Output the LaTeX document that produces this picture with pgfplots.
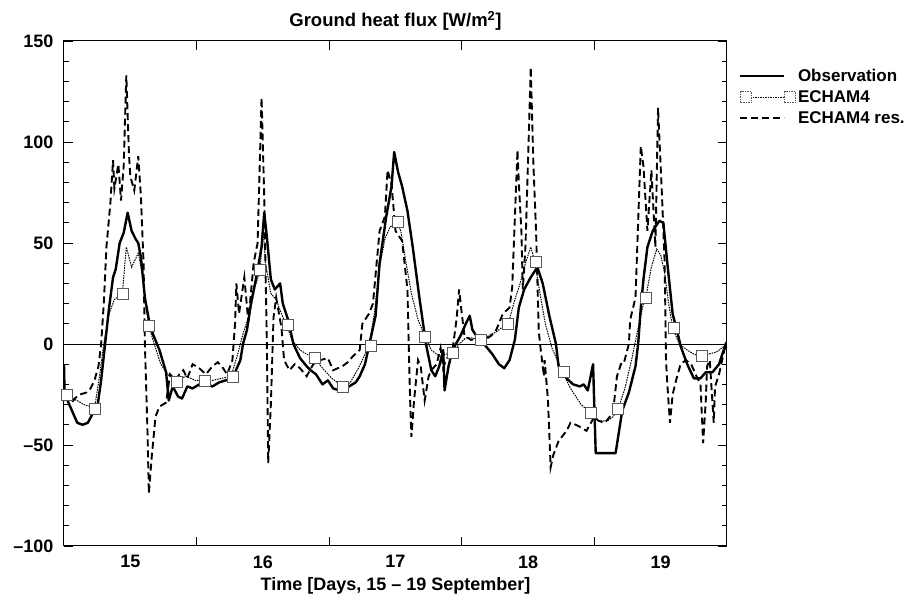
\documentclass[border=0pt]{standalone}
\usepackage{pgfplots}
\pgfplotsset{compat=1.18}
\usepackage{fontspec}
\setmainfont{Liberation Sans}
\newcommand{\lab}{\bfseries\fontsize{18}{21}\selectfont}
\begin{document}
\begin{tikzpicture}
\useasboundingbox (-64pt,-53pt) rectangle (847pt,546pt);
\begin{axis}[
  at={(0pt,0pt)}, anchor=south west,
  scale only axis, width=663pt, height=505pt,
  xmin=14.5, xmax=19.5, ymin=-100, ymax=150,
  axis line style={line width=1pt},
  tick style={black, line width=0.8pt},
  tick align=inside,
  major tick length=9pt, minor tick length=5pt,
  xtick={15,16,17,18,19},
  xticklabels={15,16,17,18,19},
  xtick style={draw=none},
  minor xtick={14.75,15,15.25,15.75,16,16.25,16.75,17,17.25,17.75,18,18.25,18.75,19,19.25},
  extra x ticks={15.5,16.5,17.5,18.5},
  extra x tick labels={},
  extra x tick style={xtick style={draw=black}},
  ytick={-100,-50,0,50,100,150},
  yticklabels={\textendash100,\textendash50,0,50,100,150},
  minor ytick={-90,-80,-70,-60,-40,-30,-20,-10,10,20,30,40,60,70,80,90,110,120,130,140},
  tick label style={font=\lab},
  xticklabel style={yshift=-6pt},
  yticklabel style={xshift=-7pt},
  xlabel={Time [Days, 15 \textendash{} 19 September]},
  xlabel style={font=\lab, yshift=-2pt},
  title={Ground heat flux [W/m\textsuperscript{2}]},
  title style={font=\bfseries\fontsize{18.5}{21}\selectfont, yshift=1pt},
  legend style={draw=none, fill=none, at={(1,1)}, anchor=north west,
    xshift=9pt, yshift=-24pt, font=\bfseries\fontsize{17}{20}\selectfont, row sep=3.5pt},
  legend cell align=left,
  legend image code/.code={\draw[#1] (0pt,0pt) -- (44pt,0pt);},
]
\addplot[black, line width=0.8pt, forget plot] coordinates {(14.5,0) (19.5,0)};

% Observation
\addplot[black, line width=2.4pt, line join=round] coordinates {
(14.50,-10) (14.505,-27) (14.52,-27) (14.56,-33) (14.60,-39) (14.64,-40) (14.68,-39)
(14.72,-34) (14.75,-32) (14.78,-18) (14.81,0) (14.84,18) (14.87,33) (14.89,37) (14.92,50)
(14.95,55) (14.98,65) (15.01,56) (15.04,52) (15.06,50) (15.08,43) (15.11,23) (15.14,12)
(15.17,5) (15.22,-3) (15.27,-14) (15.29,-28) (15.32,-21) (15.36,-26) (15.39,-27) (15.43,-21)
(15.47,-22) (15.52,-20) (15.57,-20) (15.62,-21) (15.67,-19) (15.72,-18) (15.77,-17) (15.83,-8)
(15.85,0) (15.88,7) (15.91,20) (15.95,33) (15.99,48) (16.01,65) (16.03,53) (16.06,32)
(16.09,27) (16.13,30) (16.15,20) (16.19,12) (16.23,0) (16.28,-7) (16.33,-11) (16.36,-13)
(16.40,-15) (16.45,-20) (16.49,-18) (16.53,-22) (16.58,-23) (16.65,-21) (16.70,-19) (16.73,-16)
(16.77,-10) (16.80,-1) (16.85,14) (16.88,40) (16.93,63) (16.97,78) (16.99,95) (17.02,85)
(17.05,78) (17.09,66) (17.13,48) (17.18,23) (17.23,0) (17.27,-13) (17.30,-16) (17.33,-11)
(17.36,-3) (17.37,-23) (17.40,-11) (17.43,-3) (17.49,4) (17.53,10) (17.56,14) (17.58,7)
(17.63,2) (17.68,-1) (17.73,-5) (17.78,-10) (17.82,-12) (17.86,-8) (17.90,2) (17.93,18)
(17.97,27) (18.02,33) (18.07,38) (18.11,30) (18.16,14) (18.21,0) (18.23,-11) (18.29,-17)
(18.34,-20) (18.39,-21) (18.42,-20) (18.45,-23) (18.49,-10) (18.51,-54) (18.66,-54) (18.71,-33)
(18.76,-24) (18.81,-11) (18.83,0) (18.85,18) (18.87,32) (18.90,48) (18.94,56) (18.99,61)
(19.02,60) (19.05,40) (19.09,15) (19.14,2) (19.15,-1) (19.20,-10) (19.25,-17) (19.30,-17)
(19.34,-14) (19.39,-14) (19.44,-10) (19.49,0) (19.50,1)
};
\addlegendentry{Observation}

% ECHAM4 (line)
\addplot[black, line width=1pt, dash pattern=on 1.5pt off 1pt,
  legend image code/.code={
    \draw[black, line width=1pt, dash pattern=on 1.5pt off 1pt] (0pt,0pt) -- (44pt,0pt);
    \node[draw=gray!70!black, fill=white, minimum size=11pt, inner sep=0pt, line width=0.6pt] at (0pt,0pt) {};
    \node[draw=gray!70!black, fill=white, minimum size=11pt, inner sep=0pt, line width=0.6pt] at (44pt,0pt) {};
  }] coordinates {
(14.50,-25) (14.52,-25) (14.56,-27) (14.60,-28) (14.65,-30) (14.70,-31) (14.73,-32) (14.77,-15)
(14.80,0) (14.84,15) (14.88,22) (14.94,25) (14.97,48) (15.01,38) (15.06,45) (15.09,35)
(15.12,18) (15.14,9) (15.18,0) (15.23,-10) (15.28,-15) (15.35,-18) (15.42,-16) (15.49,-18)
(15.56,-18) (15.62,-18) (15.69,-17) (15.76,-16) (15.81,-5) (15.85,5) (15.90,15) (15.94,28)
(15.98,37) (16.00,58) (16.02,40) (16.06,25) (16.10,22) (16.14,15) (16.18,9) (16.22,2)
(16.28,-3) (16.33,-5) (16.39,-7) (16.45,-12) (16.52,-17) (16.60,-21) (16.66,-19) (16.72,-12)
(16.80,-1) (16.84,15) (16.88,38) (16.92,52) (16.96,58) (17.01,60) (17.04,56) (17.08,40)
(17.12,25) (17.17,12) (17.22,4) (17.27,-3) (17.33,-6) (17.38,-5) (17.43,-5) (17.48,0)
(17.53,3) (17.58,3) (17.64,2) (17.70,4) (17.76,6) (17.80,8) (17.85,10) (17.90,22)
(17.94,30) (17.98,40) (18.02,48) (18.05,41) (18.09,25) (18.13,10) (18.18,-2) (18.22,-8)
(18.26,-14) (18.32,-22) (18.40,-30) (18.47,-34) (18.53,-38) (18.60,-38) (18.64,-36) (18.68,-32)
(18.73,-22) (18.78,-8) (18.83,8) (18.87,20) (18.89,24) (18.93,38) (18.97,47) (19.00,44)
(19.03,35) (19.06,20) (19.09,8) (19.14,0) (19.20,-3) (19.25,-5) (19.30,-6) (19.36,-5)
(19.42,-4) (19.48,-1) (19.50,0)
};
\addlegendentry{ECHAM4}

% ECHAM4 res.
\addplot[black, line width=1.9pt, dash pattern=on 7pt off 4pt] coordinates {
(14.50,-28) (14.53,-27) (14.56,-29) (14.58,-27) (14.62,-25) (14.67,-24) (14.70,-22) (14.73,-18)
(14.76,-11) (14.78,0) (14.80,20) (14.82,48) (14.85,70) (14.87,91) (14.88,77) (14.91,89)
(14.93,71) (14.95,88) (14.97,133) (14.99,94) (15.00,83) (15.03,76) (15.06,93) (15.08,73)
(15.10,40) (15.11,0) (15.13,-44) (15.14,-74) (15.16,-57) (15.19,-36) (15.22,-31) (15.27,-29)
(15.30,-15) (15.34,-18) (15.37,-15) (15.40,-13) (15.43,-17) (15.47,-10) (15.52,-12) (15.57,-15)
(15.62,-11) (15.66,-9) (15.70,-12) (15.73,-15) (15.77,-8) (15.79,10) (15.80,30) (15.82,15)
(15.86,33) (15.89,11) (15.93,40) (15.96,50) (15.99,122) (16.01,73) (16.03,0) (16.04,-59)
(16.06,-30) (16.08,13) (16.10,23) (16.14,8) (16.16,-8) (16.20,-13) (16.24,-10) (16.28,-12)
(16.33,-16) (16.38,-10) (16.43,-8) (16.49,-7) (16.53,-13) (16.60,-11) (16.64,-9) (16.68,-6)
(16.73,-3) (16.75,10) (16.77,12) (16.80,15) (16.83,20) (16.88,56) (16.92,63) (16.94,86)
(16.97,79) (17.00,56) (17.05,51) (17.09,27) (17.10,-1) (17.11,-27) (17.12,-46) (17.14,-28)
(17.17,-8) (17.19,-11) (17.22,-28) (17.25,-16) (17.27,-13) (17.31,-10) (17.34,-2) (17.36,-12)
(17.38,-8) (17.43,-3) (17.46,12) (17.48,27) (17.50,15) (17.52,4) (17.57,2) (17.62,3)
(17.67,2) (17.72,4) (17.76,7) (17.81,15) (17.86,18) (17.88,28) (17.92,96) (17.93,80)
(17.95,55) (17.96,27) (17.98,48) (18.01,114) (18.02,137) (18.04,89) (18.06,56) (18.08,7)
(18.09,0) (18.12,-16) (18.125,-8) (18.15,-28) (18.17,-61) (18.19,-55) (18.23,-48) (18.29,-43)
(18.32,-39) (18.36,-40) (18.39,-41) (18.44,-43) (18.50,-36) (18.53,-38) (18.58,-39) (18.64,-34)
(18.67,-16) (18.70,-10) (18.72,-10) (18.76,0) (18.77,12) (18.81,23) (18.85,98) (18.87,88)
(18.90,56) (18.93,86) (18.96,48) (18.98,117) (19.01,73) (19.03,40) (19.04,-8) (19.05,-20)
(19.07,-39) (19.09,-25) (19.12,-17) (19.15,-10) (19.19,-8) (19.23,-10) (19.27,-16) (19.30,-20)
(19.32,-49) (19.34,-28) (19.35,-11) (19.37,-8) (19.40,-39) (19.41,-21) (19.44,-15) (19.48,-3)
(19.50,0)
};
\addlegendentry{ECHAM4 res.}

% ECHAM4 markers
\addplot[only marks, mark=square*, mark size=5.5pt,
  mark options={fill=white, draw=gray!70!black, line width=0.6pt, solid}, forget plot] coordinates {
(14.52,-25) (14.73,-32) (14.94,25) (15.14,9) (15.35,-18.5) (15.56,-18.3) (15.77,-16) (15.98,36.6)
(16.19,9.4) (16.39,-7) (16.60,-21.4) (16.81,-1) (17.02,60.5) (17.22,3.6) (17.43,-4.6) (17.64,2)
(17.85,10) (18.06,40.8) (18.27,-13.7) (18.47,-34.3) (18.68,-32.3) (18.89,23) (19.10,8) (19.31,-5.6)
};
\end{axis}
\end{tikzpicture}
\end{document}
